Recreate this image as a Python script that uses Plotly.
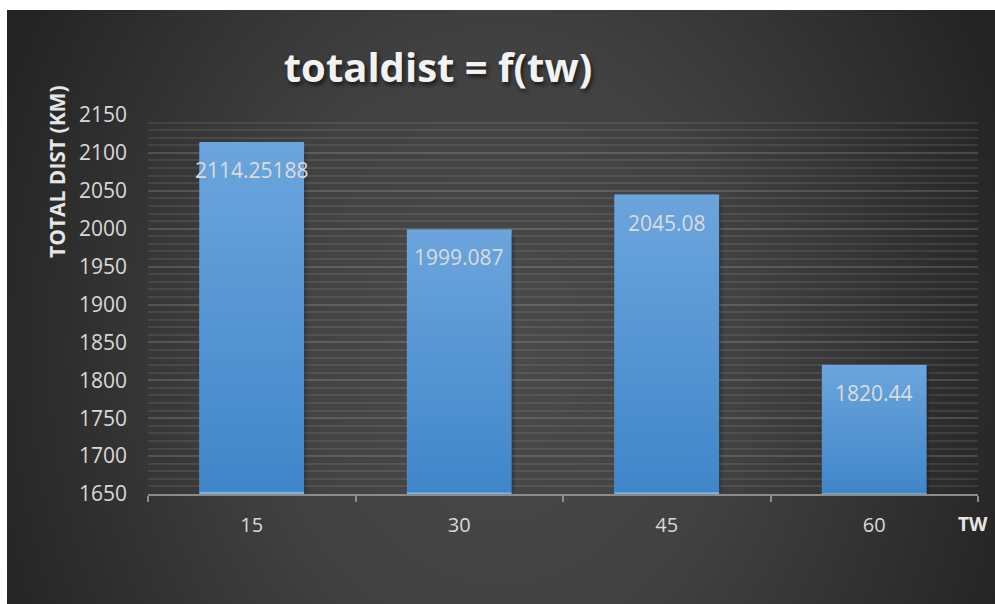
import base64
import plotly.graph_objects as go

# Data
tw_values = ["15", "30", "45", "60"]
totaldist = [2114.25188, 1999.087, 2045.08, 1820.44]
value_labels = ["2114.25188", "1999.087", "2045.08", "1820.44"]
y_min, y_max = 1650, 2150

W, H = 995, 604
ML, MR, MT, MB = 148, 17, 115, 110
PW, PH = W - ML - MR, H - MT - MB
BAR_W = 0.505


def svg_uri(svg):
    return "data:image/svg+xml;base64," + base64.b64encode(svg.encode()).decode()


def px_to_paper(px, py):
    return (px - ML) / PW, (H - MB - py) / PH


# dark backdrop with a soft radial highlight
bg_svg = """<svg xmlns='http://www.w3.org/2000/svg' width='988' height='594' viewBox='0 0 988 594'>
<defs><radialGradient id='g' gradientUnits='userSpaceOnUse' cx='494' cy='340' r='540'
 gradientTransform='translate(494 340) scale(1 1.25) translate(-494 -340)'>
<stop offset='0' stop-color='#4a4a4a'/><stop offset='0.45' stop-color='#414141'/>
<stop offset='1' stop-color='#242424'/></radialGradient></defs>
<rect width='988' height='594' fill='url(#g)'/></svg>"""

bar_svg = """<svg xmlns='http://www.w3.org/2000/svg' width='100' height='100' viewBox='0 0 100 100' preserveAspectRatio='none'>
<defs><linearGradient id='b' x1='0' y1='0' x2='0' y2='1'>
<stop offset='0' stop-color='#6ca5dd'/><stop offset='1' stop-color='#3f86c9'/></linearGradient></defs>
<rect width='100' height='100' fill='url(#b)'/><rect y='99.4' width='100' height='0.6' fill='#7fb3e3'/></svg>"""

shadow_svg = """<svg xmlns='http://www.w3.org/2000/svg' width='100' height='100' viewBox='0 0 100 100' preserveAspectRatio='none'>
<defs><filter id='f' x='-20%' y='-20%' width='140%' height='140%'><feGaussianBlur stdDeviation='2.5 0.8'/></filter></defs>
<rect x='8' y='3' width='84' height='97' fill='rgba(0,0,0,0.55)' filter='url(#f)'/></svg>"""

bx, by = px_to_paper(7, 10)
images = [dict(source=svg_uri(bg_svg), xref="paper", yref="paper",
               x=bx, y=by, sizex=988 / PW, sizey=594 / PH,
               xanchor="left", yanchor="top", sizing="stretch", layer="below")]

px_per_cat = PW / len(tw_values)
px_per_unit = PH / (y_max - y_min)
for i, v in enumerate(totaldist):
    # soft drop shadow, slightly offset right/down
    images.append(dict(source=svg_uri(shadow_svg), xref="x", yref="y",
                       x=i - BAR_W / 2 - 0.02 + 5 / px_per_cat, y=v + 3 / px_per_unit,
                       sizex=BAR_W + 0.04, sizey=v - y_min + 3 / px_per_unit,
                       xanchor="left", yanchor="top", sizing="stretch", layer="above"))
for i, v in enumerate(totaldist):
    images.append(dict(source=svg_uri(bar_svg), xref="x", yref="y",
                       x=i - BAR_W / 2, y=v, sizex=BAR_W, sizey=v - y_min,
                       xanchor="left", yanchor="top", sizing="stretch", layer="above"))

fig = go.Figure(go.Bar(
    x=tw_values, y=totaldist, width=BAR_W,
    marker=dict(color="#5a99d6", line=dict(width=0)),
    hoverinfo="x+y",
))

# value labels sit just inside the top of each bar (category index positions)
annotations = [dict(x=i, y=totaldist[i], xref="x", yref="y",
                    text=value_labels[i], showarrow=False, yshift=-28,
                    font=dict(family="Open Sans", size=21, color="#dcdcdc"))
               for i in range(len(tw_values))]

tx, ty = px_to_paper(973, 524)
annotations.append(dict(x=tx, y=ty, xref="paper", yref="paper", xanchor="center", yanchor="middle",
                        text="<b>TW</b>", showarrow=False,
                        font=dict(family="Open Sans", size=19, color="#e6e6e6")))

ax_x, ax_y = px_to_paper(57, 172)
annotations.append(dict(x=ax_x, y=ax_y, xref="paper", yref="paper", xanchor="center", yanchor="middle",
                        text="<b>TOTAL DIST (KM)</b>", textangle=-90, showarrow=False,
                        font=dict(family="Open Sans", size=21, color="#e6e6e6")))

fig.update_layout(
    width=W, height=H,
    margin=dict(l=ML, r=MR, t=MT, b=MB, pad=0),
    paper_bgcolor="white", plot_bgcolor="rgba(0,0,0,0)",
    showlegend=False,
    images=images,
    annotations=annotations,
    title=dict(text="<b>totaldist = f(tw)</b>", x=438 / W, xref="container", xanchor="center",
               y=1 - 68 / H, yref="container", yanchor="middle",
               font=dict(family="Open Sans", size=40, color="#f2f2f2",
                         shadow="2px 3px 4px rgba(0,0,0,0.6)")),
    xaxis=dict(type="category", categoryorder="array", categoryarray=tw_values,
               range=[-0.5, len(tw_values) - 0.5], autorange=False,
               tickson="boundaries", ticks="outside", ticklen=6, tickangle=0,
               tickwidth=2, tickcolor="#8c8c8c", showline=True, linecolor="#8c8c8c",
               linewidth=2, showgrid=False, ticklabelstandoff=12,
               tickfont=dict(family="Open Sans", size=20, color="#d9d9d9")),
    yaxis=dict(range=[y_min, y_max], autorange=False, dtick=50, tick0=y_min,
               showline=False, zeroline=False, ticks="", ticklabelstandoff=20,
               showgrid=True, gridcolor="rgba(255,255,255,0.15)", gridwidth=2,
               minor=dict(dtick=10, showgrid=True, gridcolor="rgba(255,255,255,0.085)", gridwidth=2),
               tickfont=dict(family="Open Sans", size=21, color="#d9d9d9")),
)

fig.write_html("out.html")
